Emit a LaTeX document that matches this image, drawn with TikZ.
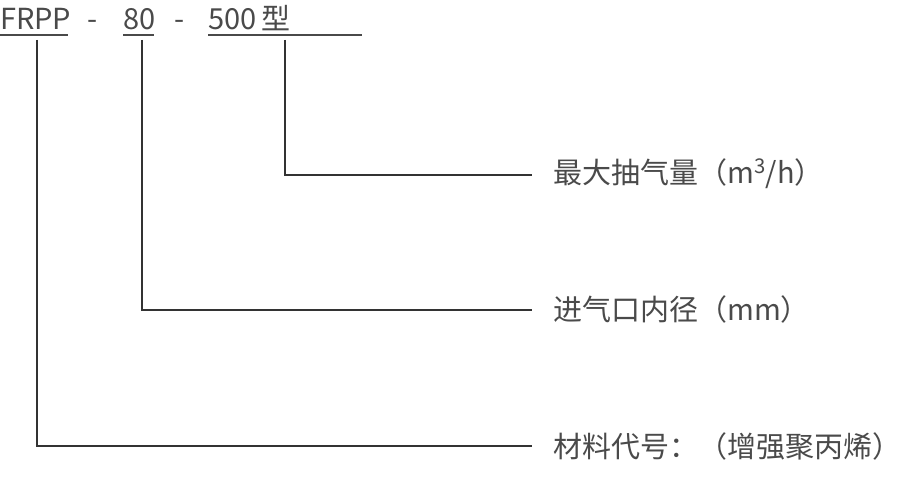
\documentclass[tikz,border=0pt]{standalone}
\usepackage{fontspec}
\setmainfont{Noto Sans CJK SC}
\definecolor{txt}{HTML}{4A4A4A}
\definecolor{ln}{HTML}{333333}
\begin{document}
\begin{tikzpicture}[x=1pt,y=1pt,
  lbl/.style={inner sep=0pt,anchor=base west,text=txt,font=\fontsize{29}{34}\selectfont},
  conn/.style={draw=ln,line width=1.4pt},
  uline/.style={draw=txt,line width=1.2pt}]
\useasboundingbox[fill=white] (0,0) rectangle (920,483);
% top code
\node[lbl] (frpp) at (0,453) {FRPP};
\node[lbl] (d1) at (87,453) {-};
\node[lbl] (n80) at (123,453) {80};
\node[lbl] (d2) at (174,453) {-};
\node[lbl] (n500) at (208,453) {500\,型};
% underlines
\coordinate (u1a) at (0,448); \coordinate (u1b) at (68,448);
\coordinate (u2a) at (123,448); \coordinate (u2b) at (154,448);
\coordinate (u3a) at (208,448); \coordinate (u3b) at (362,448);
\draw[uline] (u1a) -- (u1b);
\draw[uline] (u2a) -- (u2b);
\draw[uline] (u3a) -- (u3b);
% right labels
\node[lbl] (l1) at (553,300) {最大抽气量（m\textsuperscript{3}/h）};
\node[lbl] (l2) at (553,163) {进气口内径（mm）};
\node[lbl] (l3) at (553,26) {材料代号：（增强聚丙烯）};
% connectors
\coordinate (s1) at (285,443); \coordinate (e1) at (532,308);
\coordinate (s2) at (142,443); \coordinate (e2) at (532,173);
\coordinate (s3) at (37,443);  \coordinate (e3) at (532,37);
\draw[conn] (s1) |- (e1);
\draw[conn] (s2) |- (e2);
\draw[conn] (s3) |- (e3);
\end{tikzpicture}
\end{document}
